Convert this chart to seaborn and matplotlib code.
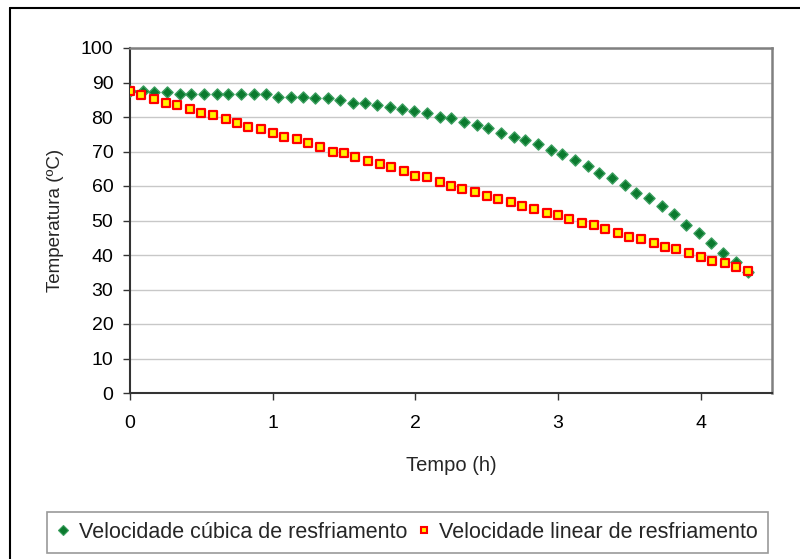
import matplotlib
matplotlib.use("Agg")
import matplotlib.pyplot as plt
import seaborn as sns
import pandas as pd
from matplotlib.lines import Line2D

# ---- data ----
tempo_cubica = [0, 0.09, 0.17, 0.26, 0.35, 0.43, 0.52, 0.61, 0.69, 0.78, 0.87, 0.95,
                1.04, 1.13, 1.21, 1.30, 1.39, 1.47, 1.56, 1.65, 1.73, 1.82, 1.91, 1.99,
                2.08, 2.17, 2.25, 2.34, 2.43, 2.51, 2.60, 2.69, 2.77, 2.86, 2.95, 3.03,
                3.12, 3.21, 3.29, 3.38, 3.47, 3.55, 3.64, 3.73, 3.81, 3.90, 3.99, 4.07,
                4.16, 4.25, 4.33]
temp_cubica = [87.4, 87.4, 87.2, 87.2, 86.6, 86.6, 86.6, 86.6, 86.6, 86.6, 86.6, 86.6,
               85.9, 85.9, 85.9, 85.4, 85.4, 84.8, 84.2, 84.2, 83.6, 83.0, 82.4, 81.8,
               81.3, 80.1, 79.6, 78.5, 77.8, 76.7, 75.5, 74.3, 73.2, 72.1, 70.3, 69.2,
               67.4, 65.7, 63.9, 62.2, 60.4, 58.1, 56.4, 54.1, 51.8, 48.8, 46.5, 43.6,
               40.7, 38.0, 35.0]

tempo_linear = [0, 0.08, 0.17, 0.25, 0.33, 0.42, 0.5, 0.58, 0.67, 0.75, 0.83, 0.92,
                1.0, 1.08, 1.17, 1.25, 1.33, 1.42, 1.5, 1.58, 1.67, 1.75, 1.83, 1.92,
                2.0, 2.08, 2.17, 2.25, 2.33, 2.42, 2.5, 2.58, 2.67, 2.75, 2.83, 2.92,
                3.0, 3.08, 3.17, 3.25, 3.33, 3.42, 3.5, 3.58, 3.67, 3.75, 3.83, 3.92,
                4.0, 4.08, 4.17, 4.25, 4.33]
temp_linear = [87.4, 86.3, 85.2, 84.0, 83.4, 82.2, 81.1, 80.5, 79.3, 78.2, 77.1, 76.5,
               75.3, 74.2, 73.6, 72.4, 71.3, 70.0, 69.5, 68.3, 67.2, 66.5, 65.4, 64.3,
               63.0, 62.6, 61.3, 60.1, 59.0, 58.4, 57.2, 56.1, 55.5, 54.3, 53.3, 52.1,
               51.5, 50.4, 49.2, 48.6, 47.5, 46.3, 45.2, 44.6, 43.4, 42.3, 41.7, 40.5,
               39.4, 38.2, 37.6, 36.5, 35.3]

label_cubica = "Velocidade cúbica de resfriamento"
label_linear = "Velocidade linear de resfriamento"
x_ticks = [0, 1, 2, 3, 4]
y_ticks = [0, 10, 20, 30, 40, 50, 60, 70, 80, 90, 100]

df_c = pd.DataFrame({"Tempo": tempo_cubica, "Temp": temp_cubica})
df_l = pd.DataFrame({"Tempo": tempo_linear, "Temp": temp_linear})

sns.set_theme(style="white")
plt.rcParams["font.family"] = ["Liberation Sans", "DejaVu Sans"]

fig = plt.figure(figsize=(8.0, 5.59), dpi=100)
ax = fig.add_axes([130 / 800, 1 - 393 / 559, (772 - 130) / 800, (393 - 48) / 559])

sns.scatterplot(data=df_c, x="Tempo", y="Temp", ax=ax, marker="D", s=32,
                color="#0B7A2E", edgecolor="#3A9E5E", linewidth=1.0, zorder=3,
                label=label_cubica, legend=False)
sns.scatterplot(data=df_l, x="Tempo", y="Temp", ax=ax, marker="s", s=28,
                color="#FFF200", edgecolor="#FF0000", linewidth=1.6, zorder=4,
                label=label_linear, legend=False)

ax.set_xlim(0, 4.5)
ax.set_ylim(0, 100)
ax.set_xticks(x_ticks)
ax.set_yticks(y_ticks)
ax.set_xticklabels([str(v) for v in x_ticks], fontsize=14)
ax.set_yticklabels([str(v) for v in y_ticks], fontsize=14)
ax.tick_params(axis="both", direction="out", length=5, width=1, colors="#333333",
               labelcolor="black", bottom=True, left=True)
ax.tick_params(axis="y", pad=7)
ax.tick_params(axis="x", pad=11)
ax.yaxis.grid(True, color="#C8C8C8", linewidth=1.0)
ax.xaxis.grid(False)
ax.set_axisbelow(True)

for side in ["left", "bottom"]:
    ax.spines[side].set_color("#333333")
    ax.spines[side].set_linewidth(1.5)
for side in ["top", "right"]:
    ax.spines[side].set_color("#808080")
    ax.spines[side].set_linewidth(1.8)
    ax.spines[side].set_visible(True)

ax.set_xlabel("Tempo (h)", fontsize=14.5, labelpad=17)
ax.set_ylabel("Temperatura (ºC)", fontsize=13.5, labelpad=12)

# outer chart border (only top and left visible)
fig.add_artist(Line2D([10 / 800, 1.0], [1 - 8 / 559, 1 - 8 / 559], color="black",
                      linewidth=1.5, transform=fig.transFigure))
fig.add_artist(Line2D([10 / 800, 10 / 800], [0, 1 - 8 / 559], color="black",
                      linewidth=1.5, transform=fig.transFigure))

handles = [
    Line2D([], [], linestyle="none", marker="D", markersize=5, markerfacecolor="#0B7A2E",
           markeredgecolor="#3A9E5E", markeredgewidth=0.8),
    Line2D([], [], linestyle="none", marker="s", markersize=5, markerfacecolor="#FFF200",
           markeredgecolor="#FF0000", markeredgewidth=1.5),
]
leg = fig.legend(handles, [label_cubica, label_linear], loc="center",
                 bbox_to_anchor=((43 + 772) / 2 / 800, 1 - 532.5 / 559), ncol=2,
                 fontsize=15.5, frameon=True, fancybox=False, handlelength=0.6,
                 handletextpad=0.4, columnspacing=0.5, borderpad=0.45, borderaxespad=0)
leg.get_frame().set_edgecolor("#808080")
leg.get_frame().set_linewidth(1.2)

fig.savefig("out.png", dpi=100, facecolor="white")
